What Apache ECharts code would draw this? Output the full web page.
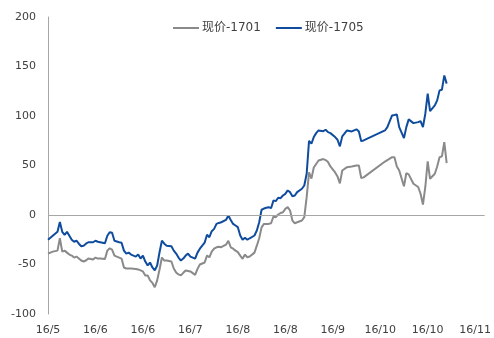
<!DOCTYPE html>
<html><head><meta charset="utf-8">
<script src="https://cdn.jsdelivr.net/npm/echarts@6/dist/echarts.min.js"></script>
<style>html,body{margin:0;padding:0;background:#fff}#c{width:494px;height:338px}</style>
</head><body><div id="c"></div>
<script>
const startDate = '2016-05-20';
const dayCount = 185;
const tickLabels = ['16/5','16/6','16/6','16/7','16/8','16/8','16/9','16/10','16/10','16/11'];
const seriesNames = ['现价-1701','现价-1705'];
const dates = ['5/20','5/22','5/24','5/25','5/26','5/27','5/28','5/29','5/30','5/31',
 '6/1','6/2','6/3','6/4','6/5','6/6','6/8','6/9','6/10','6/11','6/13','6/14','6/15','6/16','6/17','6/19','6/20','6/21','6/22','6/23','6/24','6/26','6/27','6/28','6/29','6/30',
 '7/1','7/2','7/3','7/4','7/5','7/6','7/7','7/8','7/9','7/11','7/12','7/13','7/14','7/15','7/16','7/17','7/18','7/19','7/21','7/22','7/23','7/25','7/26','7/27','7/28','7/29','7/30','7/31',
 '8/1','8/3','8/4','8/5','8/6','8/7','8/8','8/9','8/10','8/11','8/12','8/13','8/15','8/16','8/17','8/18','8/19','8/20','8/21','8/22','8/23','8/24','8/25','8/26','8/27','8/28','8/29','8/30','8/31',
 '9/1','9/2','9/4','9/5','9/6','9/7','9/8','9/9','9/10','9/11','9/13','9/14','9/15','9/16','9/18','9/19','9/20','9/21','9/23','9/25','9/27','9/28','9/29','9/30',
 '10/9','10/10','10/12','10/13','10/14','10/15','10/17','10/18','10/19','10/21','10/23','10/24','10/25','10/26','10/27','10/28','10/30','10/31',
 '11/1','11/2','11/3','11/4'];
const price1705 = [-25,-21,-17,-7,-17,-20,-17,-21,-25,-27,
 -26,-29,-31.5,-31,-29,-27.5,-27.5,-26,-27,-27.5,-28.5,-21,-17.4,-18,-26,-27.5,-28,-36,-39,-38,-40,-42,-40,-44,-41,-47,
 -51,-48,-53,-56,-51,-37.6,-26,-29,-31,-31.5,-36,-39,-43,-46,-44,-41,-39,-42,-44,-38,-34,-28,-20,-22.4,-16.4,-14,-9,-8,
 -7.3,-5,-0.5,-5,-9,-10.6,-12.3,-20.7,-25,-23,-25,-23.5,-20.7,-15.7,-7.3,5.3,6.5,7.3,7.9,6.9,14.7,14,17.4,17,19.7,21.4,24.8,23.1,19,
 19.7,23.1,26.5,29.8,41.7,75,72,78.7,82.7,85.4,84.7,86.1,83.7,82.7,78.7,76,69.3,79.4,85.4,84.4,86.5,84.4,74.6,75.3,
 85.4,88.8,100.6,101,101.6,88.8,77.7,88.8,96.6,92.8,93.8,94.8,88.8,102.3,122.5,105,110.7,115.8,
 125.9,126.6,141,132.7];
const price1701 = [-39,-37,-36,-23.5,-37,-36,-38,-40,-41,-43,
 -42,-44,-46,-47,-46,-44,-45,-43,-44,-44,-44.5,-36,-33.6,-35,-41,-43,-44,-53,-54,-54,-54,-54.5,-55,-56,-57,-61,
 -61,-66,-68.6,-73,-66,-55,-43,-46,-46,-47,-54,-58,-60,-61,-58.4,-56,-56.5,-57,-60.5,-54.4,-50,-48,-41,-42.7,-37,-34,-32.6,-32,
 -32.5,-30,-26,-32.6,-34,-36,-37.5,-41,-44.3,-40,-42.7,-42,-38,-31,-23.5,-12.5,-9,-9,-9,-8.3,-1.5,-2.2,0.5,2,2.8,6.2,7.9,4.5,-5.6,
 -8.3,-7.3,-5.6,-2.2,18,43,36.7,48,51.5,55,56.5,55.5,53.5,49,43,39,32,45,48.3,49,50,50,37.4,38,
 54,55.5,58.4,58.4,49,45,29,42.2,41,31.6,28.3,21.5,10.6,28.3,54.1,36.6,41.7,49,
 58.4,59.2,73.5,52.3];

const categories = [];
(function(){
  const d0 = new Date(startDate + 'T00:00:00');
  for (let i = 0; i < dayCount; i++) {
    const d = new Date(d0.getTime() + i * 86400000);
    categories.push((d.getMonth() + 1) + '/' + d.getDate());
  }
})();
const toData = vals => dates.map((d, i) => [categories.indexOf(d), vals[i]]);

const font = "'DejaVu Sans', 'Noto Sans CJK SC', sans-serif";
const chart = echarts.init(document.getElementById('c'), null, {renderer: 'canvas'});
chart.setOption({
  animation: false,
  backgroundColor: '#fff',
  grid: {left: 48, right: 1, top: 17, bottom: 24, containLabel: false},
  legend: {
    top: 17, left: 168, icon: 'rect', itemWidth: 26, itemHeight: 2, itemGap: 15,
    textStyle: {fontFamily: font, fontSize: 12, color: '#404040', padding: [0,0,0,-2]},
    data: seriesNames
  },
  xAxis: {
    type: 'category', data: categories, boundaryGap: false,
    axisLine: {show: false}, axisTick: {show: false}, splitLine: {show: false},
    axisLabel: {
      interval: 19, margin: 11, fontFamily: font, fontSize: 11, color: '#404040',
      alignMinLabel: 'center', alignMaxLabel: 'center',
      formatter: (v, i) => tickLabels[Math.round(i / 20)] || ''
    }
  },
  yAxis: {
    type: 'value', min: -100, max: 200, interval: 50,
    axisLine: {show: true, lineStyle: {color: '#a6a6a6', width: 1}},
    axisTick: {show: false}, splitLine: {show: false},
    axisLabel: {margin: 12, fontFamily: font, fontSize: 11, color: '#404040'}
  },
  series: [
    {
      name: seriesNames[0], type: 'line', data: toData(price1701), symbol: 'none',
      lineStyle: {color: '#8a8a8a', width: 2}, itemStyle: {color: '#8a8a8a'},
      markLine: {silent: true, symbol: 'none', label: {show: false},
        lineStyle: {color: '#a6a6a6', width: 1, type: 'solid'}, data: [{yAxis: 0}]},
      z: 2
    },
    {
      name: seriesNames[1], type: 'line', data: toData(price1705), symbol: 'none',
      lineStyle: {color: '#0f4c9e', width: 2}, itemStyle: {color: '#0f4c9e'}, z: 3
    }
  ]
});
</script></body></html>
